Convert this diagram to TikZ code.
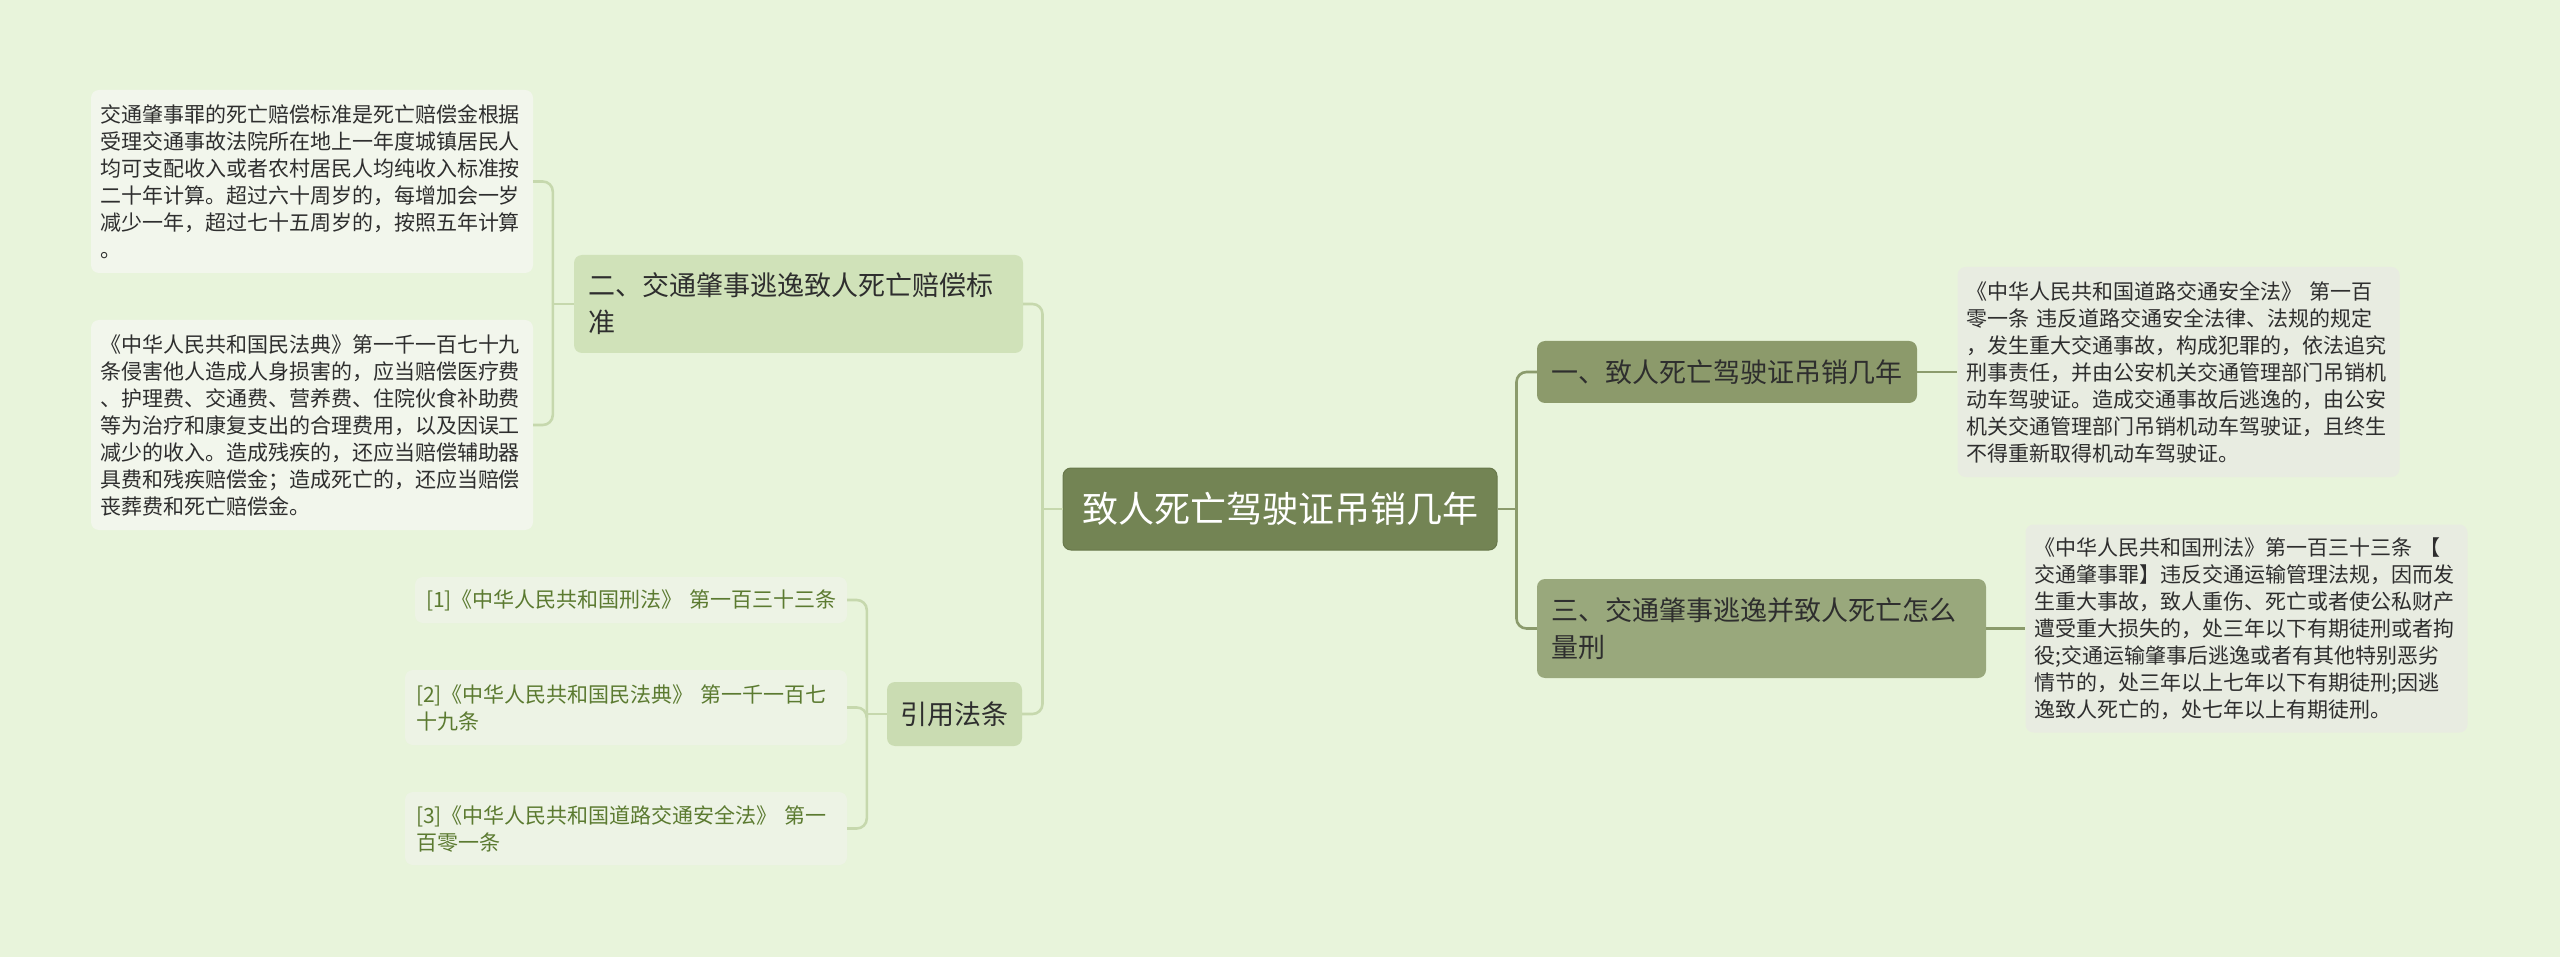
\documentclass[tikz,border=0pt]{standalone}
\usepackage{fontspec}
\setmainfont{Noto Sans CJK SC}
\usetikzlibrary{calc}
\definecolor{bg}{HTML}{E8F4DB}
\definecolor{olive}{HTML}{738454}
\definecolor{oliveline}{HTML}{68784B}
\definecolor{sage}{HTML}{8C9A6B}
\definecolor{sagelight}{HTML}{99A87C}
\definecolor{mint}{HTML}{D0E2B9}
\definecolor{mintdark}{HTML}{CADCB2}
\definecolor{paper}{HTML}{F2F6EC}
\definecolor{paperR}{HTML}{E8ECE1}
\definecolor{paperref}{HTML}{EDF3E5}
\definecolor{linkdark}{HTML}{8B9B6C}
\definecolor{linklight}{HTML}{C6D8AD}
\definecolor{reftext}{HTML}{5B7A30}
\definecolor{ink}{HTML}{2E2E2E}

\begin{document}
\begin{tikzpicture}[x=1pt, y=-1pt,
  hubbox/.style={fill=olive, draw=oliveline, line width=1pt, rounded corners=8pt,
    text=white, font=\fontsize{36}{44}\selectfont, inner xsep=19pt, minimum height=82pt},
  secbox/.style={rounded corners=8pt, text=ink, font=\fontsize{27}{37}\selectfont,
    align=left, inner xsep=14pt, inner ysep=0pt},
  leafbox/.style={rounded corners=8pt, text=ink, font=\fontsize{21}{27}\selectfont,
    align=left, text width=424pt, inner xsep=9pt, inner ysep=0pt},
  refbox/.style={rounded corners=8pt, fill=paperref, text=reftext,
    font=\fontsize{21}{27}\selectfont, align=left, inner xsep=11pt, inner ysep=0pt},
  linkR/.style={draw=linkdark, line width=2.6pt, rounded corners=10pt},
  linkL/.style={draw=linklight, line width=2.6pt, rounded corners=10pt}]

  \useasboundingbox (0,0) rectangle (2560,957);
  \fill[bg] (0,0) rectangle (2560,957);

  % Nodo centrale
  \node[hubbox] (hub) at (1280,509) {致人死亡驾驶证吊销几年};

  % Rami principali
  \node[secbox, fill=sage, inner xsep=14.5pt, minimum height=62pt] (sec1) at (1727,372)
    {一、致人死亡驾驶证吊销几年};
  \node[secbox, fill=mint, text width=421pt, minimum height=98pt] (sec2) at (798.5,304)
    {二、交通肇事逃逸致人死亡赔偿标\\准};
  \node[secbox, fill=sagelight, text width=421pt, minimum height=99pt] (sec3) at (1761.5,628.5)
    {三、交通肇事逃逸并致人死亡怎么\\量刑};
  \node[secbox, fill=mintdark, inner xsep=13.5pt, minimum height=64pt] (cite) at (954.5,714)
    {引用法条};

  % Foglie
  \node[leafbox, fill=paper, minimum height=183pt] (leafA) at (312,181.5)
    {交通肇事罪的死亡赔偿标准是死亡赔偿金根据\\
     受理交通事故法院所在地上一年度城镇居民人\\
     均可支配收入或者农村居民人均纯收入标准按\\
     二十年计算。超过六十周岁的，每增加会一岁\\
     减少一年，超过七十五周岁的，按照五年计算\\
     。};
  \node[leafbox, fill=paper, minimum height=210pt] (leafB) at (312,425)
    {《中华人民共和国民法典》第一千一百七十九\\
     条侵害他人造成人身损害的，应当赔偿医疗费\\
     、护理费、交通费、营养费、住院伙食补助费\\
     等为治疗和康复支出的合理费用，以及因误工\\
     减少的收入。造成残疾的，还应当赔偿辅助器\\
     具费和残疾赔偿金；造成死亡的，还应当赔偿\\
     丧葬费和死亡赔偿金。};
  \node[leafbox, fill=paperR, minimum height=210pt] (leafC) at (2178.5,372)
    {《中华人民共和国道路交通安全法》 第一百\\
     零一条 违反道路交通安全法律、法规的规定\\
     ，发生重大交通事故，构成犯罪的，依法追究\\
     刑事责任，并由公安机关交通管理部门吊销机\\
     动车驾驶证。造成交通事故后逃逸的，由公安\\
     机关交通管理部门吊销机动车驾驶证，且终生\\
     不得重新取得机动车驾驶证。};
  \node[leafbox, fill=paperR, minimum height=208pt] (leafD) at (2246.5,628.5)
    {《中华人民共和国刑法》第一百三十三条 【\\
     交通肇事罪】违反交通运输管理法规，因而发\\
     生重大事故，致人重伤、死亡或者使公私财产\\
     遭受重大损失的，处三年以下有期徒刑或者拘\\
     役;交通运输肇事后逃逸或者有其他特别恶劣\\
     情节的，处三年以上七年以下有期徒刑;因逃\\
     逸致人死亡的，处七年以上有期徒刑。};

  % Riferimenti
  \node[refbox, text width=410pt, minimum height=46pt] (ref1) at (631,600)
    {[1]《中华人民共和国刑法》~第一百三十三条};
  \node[refbox, text width=420pt, minimum height=75pt] (ref2) at (626,707.5)
    {[2]《中华人民共和国民法典》 第一千一百七\\十九条};
  \node[refbox, text width=420pt, minimum height=73pt] (ref3) at (626,828.5)
    {[3]《中华人民共和国道路交通安全法》 第一\\百零一条};

  % Snodi
  \coordinate (jR) at ($(hub.east)+(19,0)$);
  \coordinate (jL) at ($(hub.west)+(-20,0)$);
  \coordinate (j2) at ($(sec2.west)+(-21,0)$);
  \coordinate (jc) at ($(cite.west)+(-20,0)$);

  % Collegamenti a destra
  \draw[linkR] (hub.east) -- (jR);
  \draw[linkR] (jR) |- (sec1.west);
  \draw[linkR] (jR) |- (sec3.west);
  \draw[linkR] (sec1.east) -- (leafC.west);
  \draw[linkR] (sec3.east) -- (leafD.west);

  % Collegamenti a sinistra
  \draw[linkL] (hub.west) -- (jL);
  \draw[linkL] (jL) |- (sec2.east);
  \draw[linkL] (jL) |- (cite.east);
  \draw[linkL] (sec2.west) -- (j2);
  \draw[linkL] (j2) |- (leafA.east);
  \draw[linkL] (j2) |- (leafB.east);
  \draw[linkL] (cite.west) -- (jc);
  \draw[linkL] (jc) |- (ref1.east);
  \draw[linkL] (jc) |- (ref2.east);
  \draw[linkL] (jc) |- (ref3.east);
\end{tikzpicture}
\end{document}
